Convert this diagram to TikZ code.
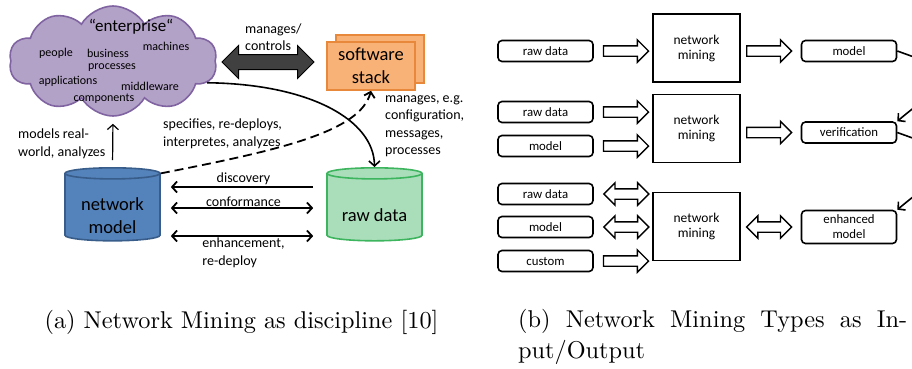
\documentclass[tikz,border=0pt]{standalone}
\usepackage{fontspec}
\newfontfamily\carlito{Carlito}
\newfontfamily\capfont{lmroman10-regular}[Extension=.otf]
\usepackage{tikz}
\usetikzlibrary{positioning}
\usetikzlibrary{shapes}
\usetikzlibrary{shapes.symbols}
\usetikzlibrary{shapes.arrows}
\usetikzlibrary{arrows.meta}
\usepackage{xcolor}
\definecolor{cloudlilac} {RGB} {179,162,199}
\definecolor{cloudedge} {RGB} {128,100,162}
\definecolor{modelblue} {RGB} {84,130,186}
\definecolor{modeledge} {RGB} {56,93,138}
\definecolor{datagreen} {RGB} {170,222,186}
\definecolor{dataedge} {RGB} {61,181,94}
\definecolor{stackorange} {RGB} {248,178,120}
\definecolor{stackedge} {RGB} {232,136,58}
\definecolor{ctlgray} {RGB} {64,64,64}
\tikzstyle{inp} = [draw,rounded corners=4pt,line width=1.6pt,minimum width=95pt,minimum height=21pt,inner sep=0pt,font=\carlito\fontsize{12.8}{15}\selectfont]
\tikzstyle{mine} = [draw,line width=1.6pt,minimum width=87pt,minimum height=68pt,align=center,font=\carlito\fontsize{13.5}{15}\selectfont]
\tikzstyle{blk} = [single arrow,draw,line width=1.4pt,minimum height=45pt,inner sep=4.5pt,single arrow head extend=6pt]
\tikzstyle{dblk} = [double arrow,draw,line width=1.4pt,minimum height=45pt,inner sep=4.5pt,double arrow head extend=6pt]
\tikzstyle{drum} = [cylinder,shape border rotate=90,aspect=0.16,line width=1.6pt,minimum width=95pt,minimum height=73pt,align=center,font=\carlito\fontsize{18.5}{23}\selectfont]
\tikzstyle{big} = [font=\carlito\fontsize{18.5}{23}\selectfont,align=center,inner sep=0pt]
\tikzstyle{stackbox} = [draw=stackedge,fill=stackorange,line width=1.6pt,minimum width=88pt,minimum height=48pt,align=center,font=\carlito\fontsize{18.5}{23}\selectfont]
\tikzstyle{small} = [font=\carlito\fontsize{12}{14}\selectfont,inner sep=0pt]
\tikzstyle{lbl} = [font=\carlito\fontsize{14}{17.5}\selectfont,align=left,inner sep=0pt]
\tikzstyle{harr} = [line width=1.8pt,shorten >=10pt,shorten <=13pt]
\tikzstyle{capt} = [font=\capfont\fontsize{24.3}{31}\selectfont,inner sep=0pt]
\tikzset{>={Straight Barb[length=5pt,width=11pt]}}

\begin{document}
\begin{tikzpicture}[x=1pt,y=-1pt]
  \clip (0,0) rectangle (912,368);

  % left: the discipline
  \node [cloud,cloud puffs=10,cloud puff arc=120,aspect=1.9,draw=cloudedge,fill=cloudlilac,line width=1.6pt,minimum width=208pt,minimum height=110pt] (ent) at (113,61) {};
  \node [font=\carlito\fontsize{17}{20}\selectfont] (entl) at (131,27) {“enterprise“};
  \node [small] (c1) at (56,53) {people};
  \node [small] (c2) at (108,53) {business};
  \node [small] (c3) at (112,68) {processes};
  \node [small] (c4) at (166,46) {machines};
  \node [small] (c5) at (68,81) {applications};
  \node [small] (c6) at (150,86) {middleware};
  \node [small] (c7) at (104,99) {components};

  \node [stackbox] (stk2) at (380,59) {};
  \node [stackbox] (stk) at (371,66) {software\\stack};

  \node [double arrow,draw=black,fill=ctlgray,line width=1pt,minimum height=92pt,inner sep=7pt,double arrow head extend=9pt] (ctl) at (268,62) {};
  \node [lbl,anchor=west] (lctl) at (245,37) {manages/\\controls};

  \node [drum,draw=modeledge,fill=modelblue] (nm) at (112.5,208.5) {\phantom{network}\\\phantom{model}};
  \node [big] (nml) at (112.5,216) {network\\model};
  \node [drum,draw=dataedge,fill=datagreen] (rd) at (374.5,208.5) {\phantom{network}\\\phantom{model}};
  \node [big] (rdl) at (374.5,215) {raw data};

  \draw [line width=1.6pt,->] (ent.-13) .. controls (310,84) and (374,120) .. (rd.north);
  \draw [line width=1.8pt,dash pattern=on 9pt off 5pt,->] (nm.after top) .. controls (280,150) and (360,132) .. (stk.south);
  \draw [line width=1.2pt,->,shorten <=7pt,shorten >=7pt] (nm.north) -- (ent.south);

  \draw [harr,->] ([yshift=21.5pt]rd.west) -- ([yshift=21.5pt]nm.east) node [midway,above=1pt,lbl] {discovery};
  \draw [harr,<->] ([yshift=0.5pt]rd.west) -- ([yshift=0.5pt]nm.east) node [midway,above=1pt,lbl] {conformance};
  \draw [harr,<->] ([yshift=-27.5pt]rd.west) -- ([yshift=-27.5pt]nm.east) node [midway,below=1pt,lbl] {enhancement,\\re-deploy};

  \node [lbl,anchor=north west] (lmgr) at (385,95) {manages, e.g.\\configuration,\\messages,\\processes};
  \node [lbl,anchor=north west] (lspec) at (163,119) {specifies, re-deploys,\\interpretes, analyzes};
  \node [lbl,anchor=north west] (lmod) at (18,129) {models real-\\world, analyzes};

  % right: the types
  \node [mine] (m1) at (696.5,48) {network\\mining};
  \node [mine] (m2) at (696.5,128.5) {network\\mining};
  \node [mine] (m3) at (696.5,226.5) {network\\mining};

  \node [inp] (in11) at (545.5,51) {raw data};
  \node [inp] (in21) at (545.5,112) {raw data};
  \node [inp] (in22) at (545.5,146) {model};
  \node [inp] (in31) at (545.5,194) {raw data};
  \node [inp] (in32) at (545.5,227) {model};
  \node [inp] (in33) at (545.5,261) {custom};

  \node [blk,right=9pt of in11] (a11) {};
  \node [blk,right=9pt of in21] (a21) {};
  \node [blk,right=9pt of in22] (a22) {};
  \node [dblk,right=9pt of in31] (a31) {};
  \node [dblk,right=9pt of in32] (a32) {};
  \node [blk,right=9pt of in33] (a33) {};

  \node [inp] (o1) at (849,51) {model};
  \node [inp] (o2) at (849,132.5) {verification};
  \node [inp,minimum height=33pt,align=center] (o3) at (849,227) {enhanced\\model};

  \node [blk,left=8pt of o1] (b1) {};
  \node [blk,left=8pt of o2] (b2) {};
  \node [dblk,left=8pt of o3] (b3) {};

  \draw [line width=1.6pt,->] (o1.east) to [out=-20,in=40,looseness=3] (o2.north east);
  \draw [line width=1.6pt,->] (o2.east) to [out=-20,in=40,looseness=3] (o3.north east);

  % captions
  \node [capt,anchor=base] (capa) at (241.5,328) {(a) Network Mining as discipline [10]};
  \node [capt,text width=389pt,align=justify,anchor=north west] (capb) at (518,309) {(b) Network Mining Types as In-\linebreak put/Output};
\end{tikzpicture}
\end{document}
